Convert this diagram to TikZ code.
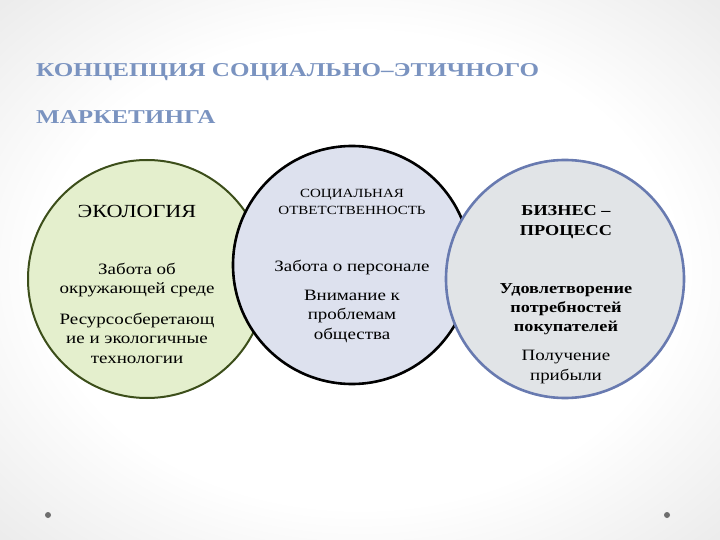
\documentclass[tikz,border=0pt]{standalone}
\usepackage{fontspec}
\setmainfont{Liberation Serif}[FakeStretch=1.2]
\newfontfamily\titlefont{Liberation Serif}[FakeStretch=1.28]
\definecolor{titleblue}{RGB}{122,147,192}
\definecolor{ecofill}{RGB}{228,239,205}
\definecolor{ecoline}{RGB}{60,78,26}
\definecolor{socfill}{RGB}{221,225,238}
\definecolor{busfill}{RGB}{225,228,231}
\definecolor{busline}{RGB}{104,122,176}
\definecolor{dotgray}{RGB}{110,110,110}
\pgfdeclareradialshading{bgshade}{\pgfpoint{0bp}{0bp}}{color(0bp)=(white); color(22bp)=(white); color(50bp)=(black!16)}
\begin{document}
\begin{tikzpicture}[x=1pt,y=-1pt,
  circ/.style={circle, inner sep=0pt, minimum size=238pt},
  title/.style={anchor=base west, inner sep=0pt, text=titleblue, font=\titlefont\bfseries\fontsize{19.6}{20}\selectfont},
  head/.style={align=center, font=\fontsize{18.5}{20}\selectfont},
  body/.style={align=center, font=\fontsize{15.8}{19.5}\selectfont},
  bbody/.style={align=center, font=\bfseries\fontsize{15.2}{19.2}\selectfont}]
\useasboundingbox (0,0) rectangle (720,540);
\shade[shading=bgshade] (0,0) rectangle (720,540);
% circles
\node[circ, fill=ecofill, draw=ecoline, line width=2pt] (eco) at (147,279) {};
\node[circ, fill=socfill, draw=black, line width=2.6pt] (soc) at (352,265) {};
\node[circ, fill=busfill, draw=busline, line width=2.6pt] (bus) at (565,279) {};
% title
\node[title] (t1) at (36,77) {КОНЦЕПЦИЯ СОЦИАЛЬНО–ЭТИЧНОГО};
\node[title] (t2) at (36,124) {МАРКЕТИНГА};
% ecology
\node[head] (ecoh) at (137,211) {ЭКОЛОГИЯ};
\node[body] (eco1) at (137,280) {Забота об\\окружающей среде};
\node[body] (eco2) at (137,338) {Ресурсосберетающ\\ие и экологичные\\технологии};
% social
\node[align=center, font=\fontsize{12.5}{17.5}\selectfont] (soch) at (352,202) {СОЦИАЛЬНАЯ\\ОТВЕТСТВЕННОСТЬ};
\node[body] (soc1) at (352,268) {Забота о персонале};
\node[body] (soc2) at (352,316) {Внимание к\\проблемам\\общества};
% business
\node[bbody] (bush) at (566,222) {БИЗНЕС –\\ПРОЦЕСС};
\node[bbody] (bus1) at (566,309) {Удовлетворение\\потребностей\\покупателей};
\node[body] (bus2) at (566,367) {Получение\\прибыли};
% dots
\fill[dotgray] (48,515) circle (3pt);
\fill[dotgray] (667,515) circle (3pt);
\end{tikzpicture}
\end{document}
